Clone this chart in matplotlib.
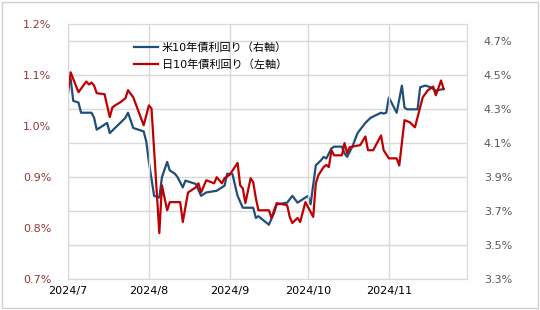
import matplotlib
matplotlib.use("Agg")
import matplotlib.pyplot as plt
import matplotlib.dates as mdates
from matplotlib.patches import Rectangle
import numpy as np
import datetime as dt

plt.rcParams['font.family'] = ['DejaVu Sans', 'Noto Sans CJK JP']

start = dt.date(2024, 7, 1)

# US 10y yield (right axis), read as (day offset from 2024/7/1, %)
us_days = [0, 1, 2, 4, 5, 8, 9, 10, 11, 14, 15, 16, 18, 20, 22, 23, 25, 29, 30, 31,
           33, 35, 36, 38, 39, 41, 42, 44, 45, 49, 51, 53, 57, 60, 61, 63, 65, 67, 71,
           72, 73, 77, 79, 80, 84, 86, 88, 92, 93, 95, 97, 98, 99, 101, 102, 105, 106,
           107, 109, 111, 113, 114, 116, 118, 120, 121, 122, 123, 125, 126, 128, 129,
           130, 134, 135, 137, 139, 141, 144]
us_yield = [4.45, 4.48, 4.35, 4.34, 4.28, 4.28, 4.28, 4.25, 4.18, 4.21, 4.22, 4.16, 4.19,
            4.22, 4.25, 4.28, 4.19, 4.17, 4.11, 3.99, 3.79, 3.78, 3.90, 3.99, 3.94, 3.92,
            3.90, 3.84, 3.88, 3.86, 3.79, 3.81, 3.82, 3.85, 3.92, 3.92, 3.79, 3.72, 3.72,
            3.66, 3.67, 3.62, 3.69, 3.74, 3.75, 3.79, 3.75, 3.79, 3.74, 3.97, 4.00, 4.02,
            4.01, 4.07, 4.08, 4.08, 4.04, 4.02, 4.08, 4.16, 4.20, 4.22, 4.25, 4.265, 4.28,
            4.275, 4.28, 4.37, 4.31, 4.28, 4.44, 4.31, 4.30, 4.30, 4.43, 4.44, 4.43, 4.41,
            4.42]

# JGB 10y yield (left axis)
jp_days = [0, 1, 4, 7, 8, 9, 10, 11, 14, 16, 17, 18, 20, 22, 23, 25, 29, 31, 32, 35,
           36, 38, 39, 43, 44, 46, 49, 50, 51, 53, 56, 57, 59, 60, 62, 65, 66, 67, 68,
           70, 71, 72, 73, 77, 78, 80, 84, 85, 86, 88, 89, 91, 94, 95, 96, 98, 99, 100,
           101, 102, 105, 106, 107, 108, 110, 112, 114, 115, 117, 120, 121, 123, 126,
           127, 129, 131, 133, 136, 138, 140, 141, 142, 143, 144]
jp_yield = [1.065, 1.106, 1.067, 1.088, 1.082, 1.086, 1.08, 1.065, 1.063, 1.018, 1.037,
            1.041, 1.047, 1.055, 1.071, 1.057, 1.002, 1.041, 1.035, 0.79, 0.884, 0.835,
            0.851, 0.851, 0.812, 0.87, 0.88, 0.888, 0.87, 0.894, 0.888, 0.90, 0.888,
            0.898, 0.905, 0.928, 0.884, 0.878, 0.849, 0.898, 0.89, 0.859, 0.835, 0.835,
            0.82, 0.849, 0.845, 0.822, 0.81, 0.82, 0.812, 0.851, 0.822, 0.888, 0.904,
            0.92, 0.924, 0.92, 0.953, 0.943, 0.943, 0.967, 0.947, 0.959, 0.961, 0.963,
            0.98, 0.953, 0.953, 0.982, 0.953, 0.937, 0.937, 0.923, 1.012, 1.008, 0.998,
            1.057, 1.071, 1.078, 1.061, 1.075, 1.09, 1.073]

us_label = '米10年債利回り（右軸）'
jp_label = '日10年債利回り（左軸）'
month_ticks = [dt.date(2024, m, 1) for m in range(7, 12)]

us_dates = [start + dt.timedelta(days=d) for d in us_days]
jp_dates = [start + dt.timedelta(days=d) for d in jp_days]

fig = plt.figure(figsize=(5.4, 3.1), dpi=100)
ax = fig.add_axes([0.126, 0.1, 0.739, 0.821])
ax2 = ax.twinx()

blue = '#1F4E79'
red = '#C00000'
grid_c = '#D9D9D9'

l1, = ax2.plot(us_dates, us_yield, color=blue, lw=1.6, label=us_label)
l2, = ax.plot(jp_dates, jp_yield, color=red, lw=1.6, label=jp_label)

ax.set_zorder(ax2.get_zorder() + 1)
ax.patch.set_visible(False)

ax.set_xlim(dt.date(2024, 7, 1), dt.date(2024, 12, 1))
ax.set_ylim(0.7, 1.2)
ax2.set_ylim(3.3, 4.8)

ax.set_yticks(np.arange(0.7, 1.21, 0.1))
ax.set_yticklabels(['%.1f%%' % v for v in np.arange(0.7, 1.21, 0.1)])
ax2.set_yticks(np.arange(3.3, 4.71, 0.2))
ax2.set_yticklabels(['%.1f%%' % v for v in np.arange(3.3, 4.71, 0.2)])

ax.set_xticks(month_ticks)
ax.xaxis.set_major_formatter(mdates.DateFormatter('%Y/%-m'))

ax.tick_params(axis='y', length=0, labelsize=8, labelcolor='#953735', pad=12)
ax2.tick_params(axis='y', length=0, labelsize=8, labelcolor='#595959', pad=12)
ax.tick_params(axis='x', length=0, labelsize=8, labelcolor='#000000', pad=5)
ax2.tick_params(axis='x', length=0)

ax.grid(axis='x', color=grid_c, lw=1)
ax2.grid(axis='y', color=grid_c, lw=1)
ax.grid(axis='y', visible=False)

for a in (ax, ax2):
    for s in a.spines.values():
        s.set_color(grid_c)

ax.legend([l1, l2], [us_label, jp_label], loc='upper left', bbox_to_anchor=(0.14, 0.97),
          frameon=False, fontsize=8, handlelength=2.2, handletextpad=0.3, labelspacing=0.6)

fig.patches.append(Rectangle((0.004, 0.006), 0.992, 0.988, transform=fig.transFigure,
                             fill=False, edgecolor='#D0D0D0', lw=1))

fig.savefig('out.png', dpi=100)
